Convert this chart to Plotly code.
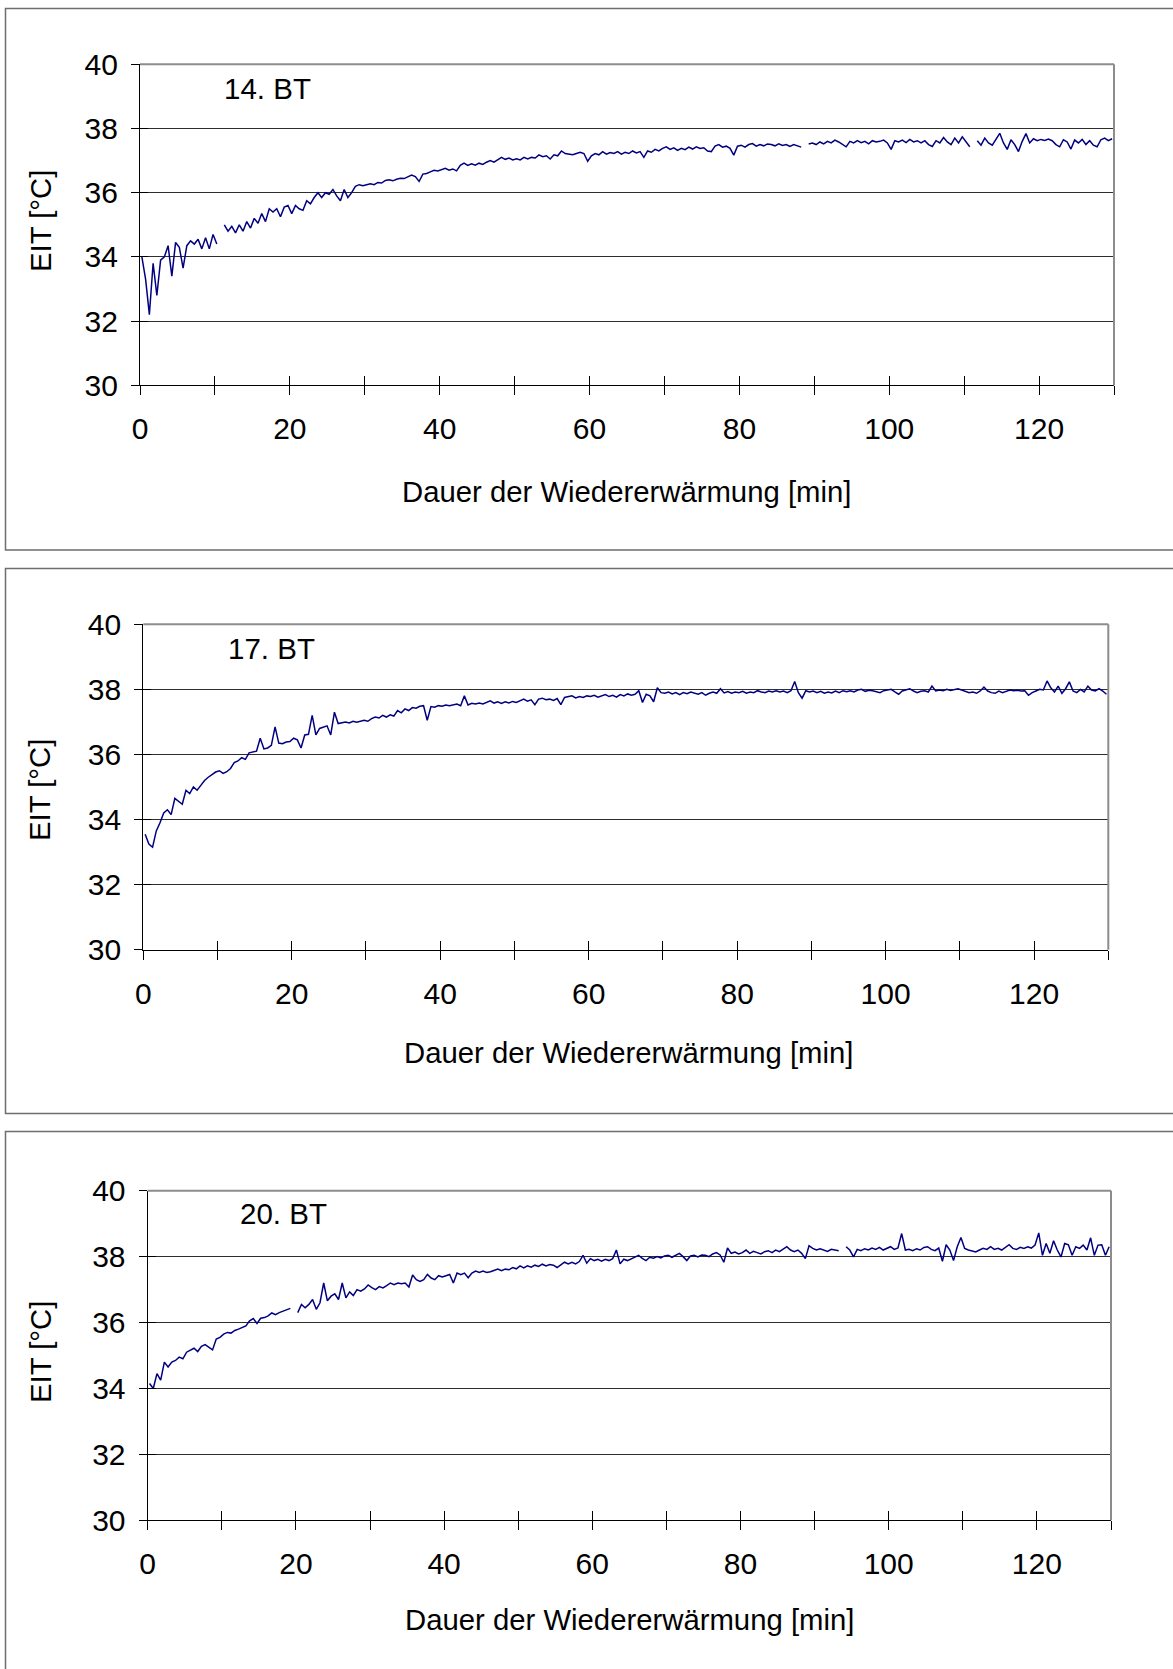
import plotly.graph_objects as go

W, H = 1173, 1669

# sampling instants [min] (every 0.5 min)
t_min = [round(0.25 + 0.5 * i, 2) for i in range(260)]

x_tick_vals = [0, 10, 20, 30, 40, 50, 60, 70, 80, 90, 100, 110, 120, 130]
x_tick_text = ["0", "", "20", "", "40", "", "60", "", "80", "", "100", "", "120", ""]
y_tick_vals = [30, 32, 34, 36, 38, 40]

panel_labels = ["14. BT", "17. BT", "20. BT"]
x_title = "Dauer der Wiedererwärmung [min]"
y_title = "EIT [°C]"

eit_14 = [
    34.0, 33.3, 32.2, 33.8, 32.8, 33.9, 34.0, 34.35, 33.4, 34.45,
    34.3, 33.65, 34.35, 34.5, 34.4, 34.55, 34.25, 34.6, 34.25, 34.7,
    34.4, None, 35.0, 34.8, 34.95, 34.75, 35.0, 34.8, 35.1, 34.9,
    35.2, 35.05, 35.35, 35.1, 35.5, 35.4, 35.5, 35.25, 35.55, 35.6,
    35.35, 35.6, 35.5, 35.45, 35.75, 35.65, 35.85, 36.0, 35.85, 36.0,
    35.95, 36.1, 35.9, 35.75, 36.1, 35.85, 36.0, 36.2, 36.25, 36.22,
    36.25, 36.28, 36.25, 36.32, 36.3, 36.38, 36.4, 36.37, 36.42, 36.45,
    36.44, 36.5, 36.55, 36.5, 36.35, 36.58, 36.6, 36.65, 36.7, 36.68,
    36.72, 36.76, 36.7, 36.74, 36.68, 36.85, 36.92, 36.85, 36.9, 36.86,
    36.92, 36.88, 36.95, 37.0, 36.95, 37.02, 37.1, 37.04, 37.08, 37.02,
    37.06, 37.02, 37.1, 37.05, 37.1, 37.08, 37.18, 37.12, 37.15, 37.05,
    37.18, 37.15, 37.3, 37.22, 37.2, 37.18, 37.22, 37.26, 37.22, 36.98,
    37.15, 37.22, 37.18, 37.28, 37.2, 37.25, 37.22, 37.28, 37.2, 37.26,
    37.22, 37.3, 37.24, 37.28, 37.1, 37.3, 37.26, 37.35, 37.3, 37.38,
    37.43, 37.35, 37.4, 37.32, 37.38, 37.34, 37.42, 37.36, 37.43, 37.38,
    37.4, 37.3, 37.28, 37.45, 37.5, 37.42, 37.45, 37.38, 37.17, 37.45,
    37.48, 37.42, 37.5, 37.53, 37.45, 37.5, 37.46, 37.52, 37.5, 37.46,
    37.52, 37.47, 37.5, 37.44, 37.5, 37.45, 37.42, None, 37.52, 37.55,
    37.5, 37.58, 37.52, 37.6, 37.55, 37.64, 37.58, 37.5, 37.43, 37.6,
    37.55, 37.62, 37.56, 37.6, 37.52, 37.62, 37.58, 37.6, 37.64, 37.55,
    37.35, 37.62, 37.58, 37.64, 37.56, 37.66, 37.58, 37.62, 37.55, 37.62,
    37.5, 37.44, 37.62, 37.55, 37.72, 37.58, 37.5, 37.7, 37.55, 37.74,
    37.6, 37.43, None, 37.62, 37.48, 37.7, 37.55, 37.48, 37.68, 37.85,
    37.55, 37.35, 37.65, 37.5, 37.28, 37.6, 37.84, 37.55, 37.68, 37.62,
    37.66, 37.63, 37.67, 37.62, 37.5, 37.43, 37.65, 37.58, 37.36, 37.64,
    37.55, 37.66, 37.5, 37.62, 37.48, 37.43, 37.65, 37.7, 37.62, 37.68,
]

eit_17 = [
    33.55, 33.25, 33.15, 33.65, 33.9, 34.2, 34.3, 34.15, 34.65, 34.55,
    34.47, 34.9, 34.8, 35.0, 34.9, 35.05, 35.2, 35.3, 35.37, 35.46,
    35.5, 35.42, 35.47, 35.57, 35.75, 35.8, 35.9, 35.85, 36.05, 36.07,
    36.1, 36.5, 36.17, 36.2, 36.28, 36.85, 36.35, 36.33, 36.38, 36.4,
    36.5, 36.45, 36.2, 36.6, 36.62, 37.2, 36.6, 36.8, 36.85, 36.88,
    36.6, 37.3, 36.95, 36.98, 37.0, 36.97, 37.02, 36.99, 37.03, 37.05,
    37.02, 37.1, 37.15, 37.12, 37.2, 37.15, 37.22, 37.18, 37.35, 37.28,
    37.4, 37.35, 37.44, 37.42, 37.48, 37.5, 37.05, 37.47, 37.45, 37.5,
    37.48, 37.52, 37.5, 37.53, 37.55, 37.5, 37.8, 37.52, 37.57, 37.55,
    37.58, 37.55, 37.6, 37.65, 37.58, 37.62, 37.57, 37.62, 37.58, 37.63,
    37.6, 37.65, 37.7, 37.64, 37.68, 37.53, 37.7, 37.73, 37.68, 37.7,
    37.66, 37.72, 37.53, 37.75, 37.78, 37.8, 37.74, 37.78, 37.75, 37.8,
    37.78, 37.82, 37.76, 37.8, 37.84, 37.78, 37.82, 37.76, 37.84, 37.8,
    37.86, 37.82, 37.85, 37.96, 37.6, 37.85, 37.8, 37.62, 38.05, 37.9,
    37.88, 37.92, 37.86, 37.9, 37.84, 37.9, 37.87, 37.92, 37.88, 37.85,
    37.9, 37.82, 37.88, 37.92, 37.88, 38.02, 37.89, 37.93, 37.88, 37.92,
    37.9, 37.94, 37.88, 37.92, 37.9, 37.96, 37.92, 37.9, 37.95, 37.92,
    37.96, 37.92, 37.95, 37.9, 37.96, 38.24, 37.9, 37.73, 37.96, 37.92,
    37.95, 37.9, 37.94, 37.88, 37.92, 37.89, 37.95, 37.9, 37.96, 37.93,
    37.96, 37.92, 37.98, 38.0, 37.94, 37.97, 37.96, 37.92, 37.9, 37.96,
    37.98, 38.0, 37.92, 37.85, 37.95, 37.98, 38.02, 37.95, 37.9, 37.94,
    37.96, 37.92, 38.1, 37.95, 37.98, 37.96, 38.0, 37.97, 37.99, 38.02,
    37.98, 37.95, 37.9, 37.92, 37.88, 37.95, 38.07, 37.95, 37.9, 37.88,
    37.95, 37.9, 37.95, 37.98, 37.96, 37.97, 37.95, 37.96, 37.82, 37.9,
    37.95, 38.0, 37.98, 38.26, 38.05, 37.92, 38.1, 37.88, 38.02, 38.23,
    37.95, 37.9, 38.0, 37.92, 38.1, 37.98, 37.95, 38.02, 37.95, 37.85,
]

eit_20 = [
    34.15, 34.0, 34.45, 34.25, 34.8, 34.65, 34.8, 34.85, 34.95, 34.9,
    35.1, 35.15, 35.22, 35.12, 35.28, 35.33, 35.25, 35.17, 35.5, 35.55,
    35.65, 35.7, 35.68, 35.76, 35.8, 35.85, 35.9, 36.05, 36.12, 35.97,
    36.13, 36.15, 36.2, 36.29, 36.24, 36.3, 36.35, 36.4, 36.43, None,
    36.3, 36.55, 36.45, 36.55, 36.7, 36.4, 36.6, 37.2, 36.66, 36.8,
    36.87, 36.7, 37.2, 36.75, 36.93, 36.82, 37.0, 36.95, 37.02, 37.14,
    37.06, 37.0, 37.09, 37.05, 37.12, 37.2, 37.15, 37.2, 37.18, 37.2,
    37.08, 37.44, 37.3, 37.25, 37.3, 37.46, 37.35, 37.3, 37.42, 37.38,
    37.42, 37.46, 37.2, 37.5, 37.45, 37.5, 37.36, 37.5, 37.56, 37.52,
    37.56, 37.52, 37.54, 37.58, 37.62, 37.57, 37.62, 37.6, 37.67, 37.63,
    37.72, 37.66, 37.72, 37.68, 37.74, 37.7, 37.77, 37.72, 37.76, 37.74,
    37.67, 37.75, 37.83, 37.78, 37.83, 37.78, 37.85, 38.04, 37.8, 37.94,
    37.88, 37.92, 37.86, 37.92, 37.88, 37.94, 38.2, 37.78, 37.92, 37.88,
    37.94, 37.98, 38.04, 37.95, 37.88, 37.98, 37.95, 38.0, 37.96, 38.02,
    38.04, 37.98, 38.05, 38.1, 38.0, 37.88, 38.02, 38.04, 37.99, 38.05,
    38.04, 38.0, 38.08, 38.12, 38.05, 37.83, 38.26, 38.1, 38.14, 38.08,
    38.12, 38.2, 38.1, 38.16, 38.12, 38.08, 38.15, 38.18, 38.12, 38.2,
    38.15, 38.22, 38.3, 38.2, 38.15, 38.2, 38.1, 37.94, 38.33, 38.25,
    38.2, 38.24, 38.2, 38.16, 38.22, 38.2, 38.18, None, 38.3, 38.2,
    37.99, 38.22, 38.18, 38.24, 38.2, 38.26, 38.22, 38.28, 38.2, 38.26,
    38.3, 38.22, 38.26, 38.7, 38.2, 38.22, 38.18, 38.24, 38.2, 38.28,
    38.3, 38.22, 38.18, 38.26, 37.86, 38.36, 38.2, 37.88, 38.3, 38.58,
    38.25, 38.2, 38.18, 38.14, 38.2, 38.25, 38.22, 38.3, 38.22, 38.25,
    38.2, 38.28, 38.36, 38.25, 38.22, 38.28, 38.25, 38.3, 38.26, 38.35,
    38.72, 38.04, 38.4, 38.1, 38.48, 38.2, 37.99, 38.4, 38.36, 38.04,
    38.3, 38.25, 38.35, 38.2, 38.57, 38.04, 38.35, 38.36, 38.04, 38.3,
]

series = [eit_14, eit_17, eit_20]
for s in series:
    assert len(s) == len(t_min), len(s)

# layout geometry (pixels in the 1173x1669 page)
plot_x = [(140, 1114), (143.3, 1108.3), (147.7, 1111)]
plot_y = [(64.3, 385.3), (624.3, 949.7), (1190.7, 1520.3)]
frames = [(8.5, 550), (568.5, 1113.4), (1131.5, 1700)]
label_pos = [(222, 88), (226, 648.3), (238, 1213.3)]
xtitle_pos = [(626, 491.8), (628, 1052.7), (629.5, 1619)]
ytitle_pos = [(40, 221), (40, 790), (40, 1352)]

FONT = "Liberation Sans, Arial, sans-serif"
LINE = "#000080"

def px(x):
    return x / W

def py(y):
    return 1 - y / H

fig = go.Figure()
layout = dict(
    template="none",
    width=W, height=H, margin=dict(l=0, r=0, t=0, b=0, pad=0, autoexpand=False),
    paper_bgcolor="white", plot_bgcolor="rgba(0,0,0,0)",
    showlegend=False, font=dict(family=FONT, color="black"),
    shapes=[], annotations=[],
)

for i in range(3):
    n = i + 1
    xs = "x" if n == 1 else f"x{n}"
    ys = "y" if n == 1 else f"y{n}"
    xo, yo = f"x{n + 3}", f"y{n + 3}"
    xk = "xaxis" if n == 1 else f"xaxis{n}"
    yk = "yaxis" if n == 1 else f"yaxis{n}"

    fig.add_trace(go.Scatter(
        x=t_min, y=series[i], mode="lines", connectgaps=False,
        line=dict(color=LINE, width=1.5), xaxis=xs, yaxis=ys, hoverinfo="skip",
    ))
    # helpers so that the overlay axes (inner half of the tick marks) are drawn
    fig.add_trace(go.Scatter(x=[None], y=[None], xaxis=xo, yaxis=ys, hoverinfo="skip"))
    fig.add_trace(go.Scatter(x=[None], y=[None], xaxis=xs, yaxis=yo, hoverinfo="skip"))

    xd = [px(plot_x[i][0]), px(plot_x[i][1])]
    yd = [py(plot_y[i][1]), py(plot_y[i][0])]

    layout[xk] = dict(
        domain=xd, anchor=ys, range=[0, 130], tickmode="array",
        tickvals=x_tick_vals, ticktext=x_tick_text, automargin=False,
        ticks="outside", ticklen=9, tickwidth=1.2, tickcolor="black",
        showline=True, linecolor="black", linewidth=1.3,
        showgrid=False, zeroline=False,
        tickfont=dict(family=FONT, size=30, color="black"),
        ticklabelstandoff=8, fixedrange=True,
    )
    layout[yk] = dict(
        domain=yd, anchor=xs, range=[30, 40], tickmode="array",
        tickvals=y_tick_vals, ticks="outside", ticklen=8, tickwidth=1.2,
        tickcolor="black", showline=True, linecolor="black", linewidth=1.3,
        showgrid=True, gridcolor="#2e2e2e", gridwidth=1, zeroline=False,
        tickfont=dict(family=FONT, size=30, color="black"), automargin=False,
        ticklabelstandoff=7, fixedrange=True,
    )
    layout[f"xaxis{n + 3}"] = dict(
        overlaying=xs, anchor=ys, range=[0, 130], tickmode="array",
        tickvals=x_tick_vals, ticks="inside", ticklen=9, tickwidth=1.2,
        tickcolor="black", showticklabels=False, showline=False, automargin=False,
        showgrid=False, zeroline=False, fixedrange=True,
    )
    layout[f"yaxis{n + 3}"] = dict(
        overlaying=ys, anchor=xs, side="left", range=[30, 40], tickmode="array",
        tickvals=y_tick_vals, ticks="inside", ticklen=8, tickwidth=1.2,
        tickcolor="black", showticklabels=False, showline=False, automargin=False,
        showgrid=False, zeroline=False, fixedrange=True,
    )

    # outer frame of each chart
    layout["shapes"].append(dict(
        type="rect", xref="paper", yref="paper",
        x0=px(5.5), x1=1.05, y0=py(frames[i][1]), y1=py(frames[i][0]),
        line=dict(color="#6e6e6e", width=1.5), fillcolor="rgba(0,0,0,0)", layer="below",
    ))
    # grey top / right plot-area border
    dx = "x domain" if n == 1 else f"x{n} domain"
    dy = "y domain" if n == 1 else f"y{n} domain"
    layout["shapes"].append(dict(type="line", xref=dx, yref=dy, x0=0, x1=1, y0=1, y1=1,
                                 line=dict(color="#8c8c8c", width=2), layer="above"))
    layout["shapes"].append(dict(type="line", xref=dx, yref=dy, x0=1, x1=1, y0=0, y1=1,
                                 line=dict(color="#8c8c8c", width=2), layer="above"))

    layout["annotations"] += [
        dict(text=panel_labels[i], xref="paper", yref="paper",
             x=px(label_pos[i][0]), y=py(label_pos[i][1]), xanchor="left", yanchor="middle",
             showarrow=False, font=dict(family=FONT, size=29.5, color="black")),
        dict(text=x_title, xref="paper", yref="paper",
             x=px(xtitle_pos[i][0]), y=py(xtitle_pos[i][1]), xanchor="center", yanchor="middle",
             showarrow=False, font=dict(family=FONT, size=29.3, color="black")),
        dict(text=y_title, xref="paper", yref="paper", textangle=-90,
             x=px(ytitle_pos[i][0]), y=py(ytitle_pos[i][1]), xanchor="center", yanchor="middle",
             showarrow=False, font=dict(family=FONT, size=29.3, color="black")),
    ]

fig.update_layout(**layout)
fig.write_html("out.html")
